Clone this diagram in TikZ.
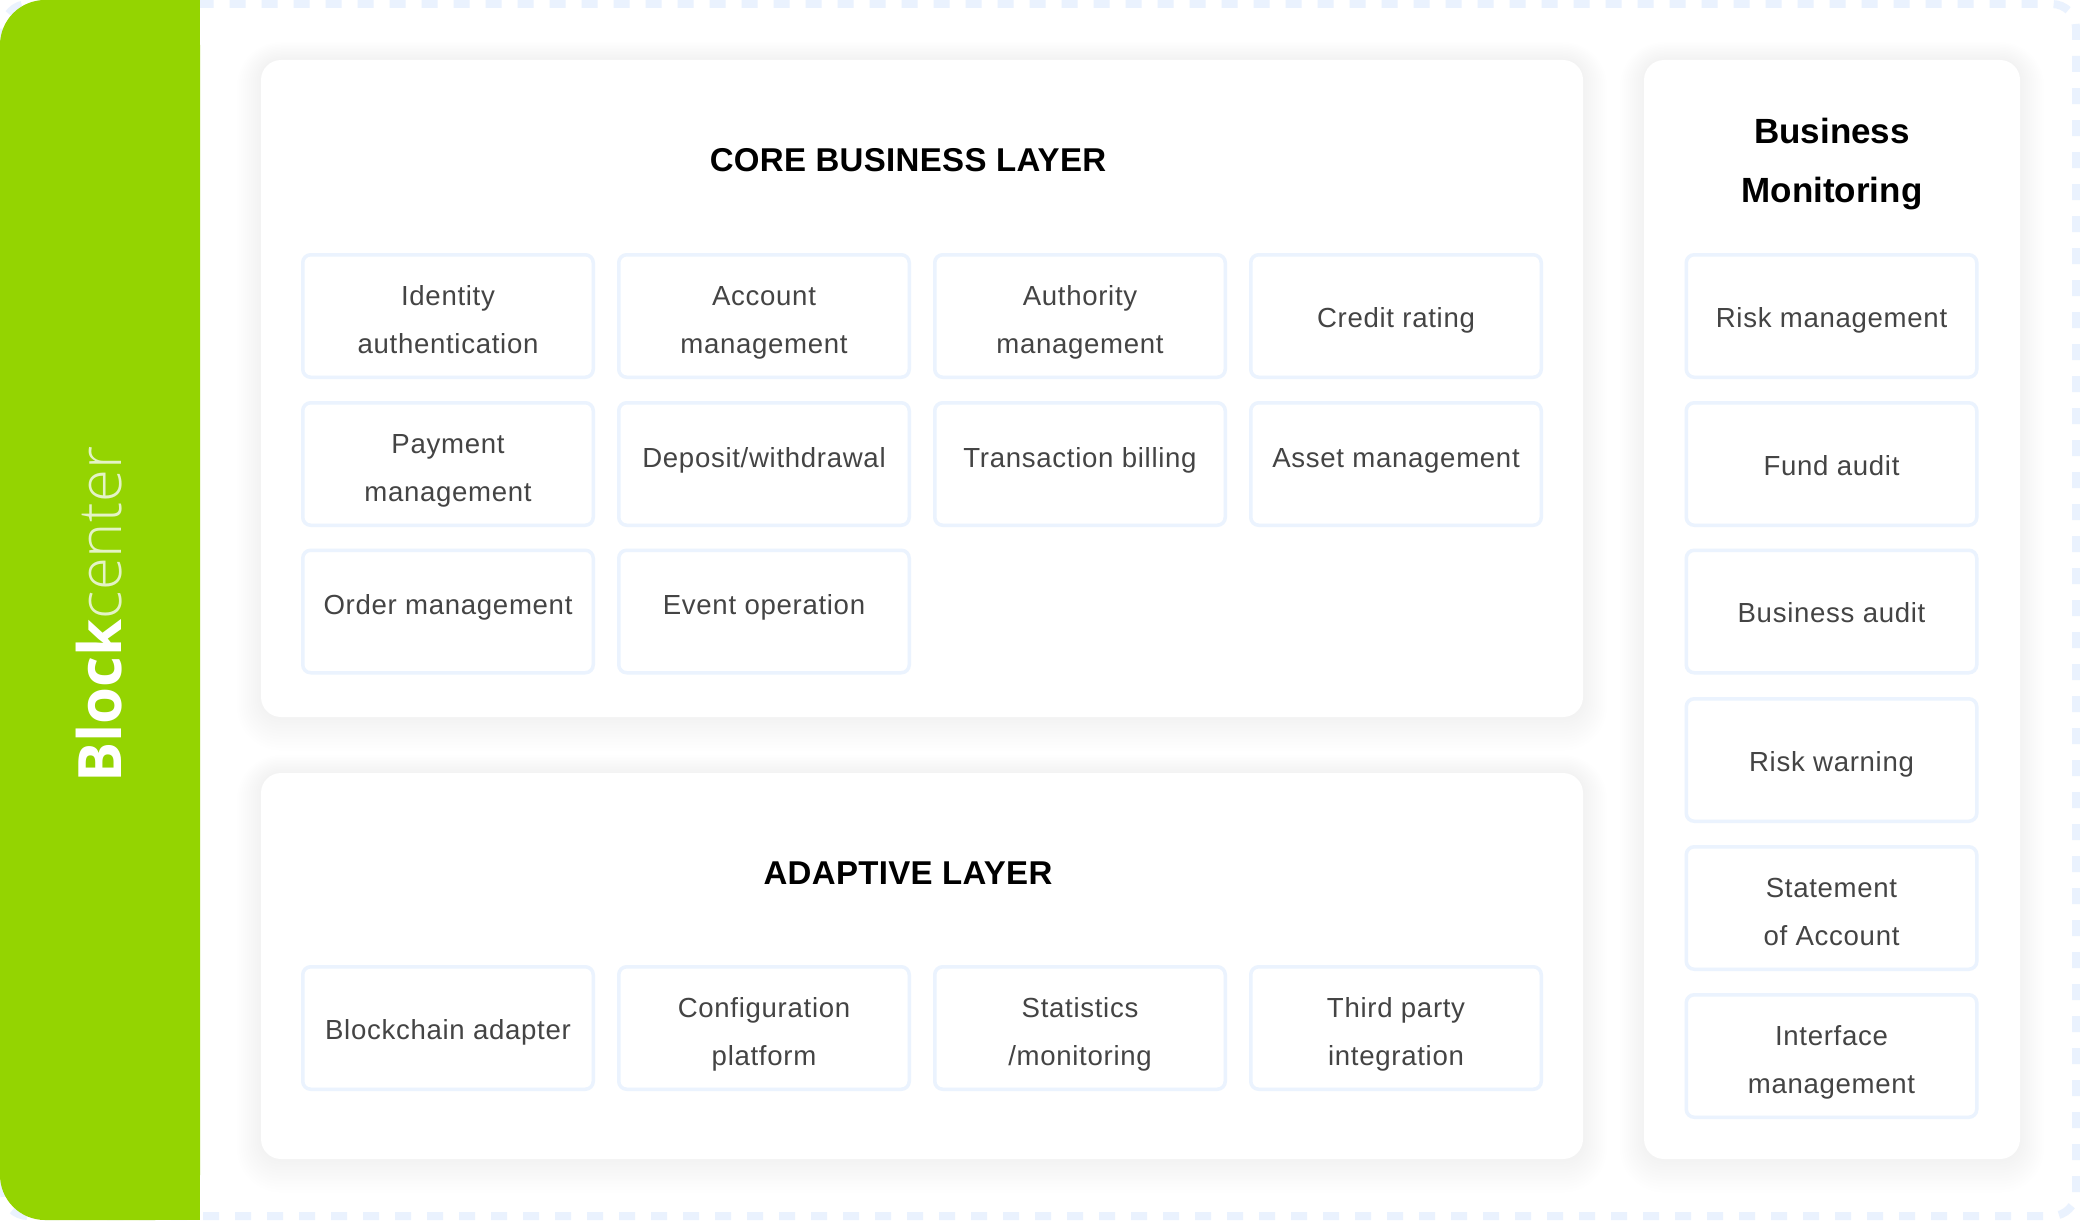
\documentclass[tikz,border=0pt]{standalone}
\usepackage{fontspec}
\setmainfont{Liberation Sans}
\newfontfamily\boxfont{Liberation Sans}[LetterSpace=2.5]
\newfontfamily\headfont{Liberation Sans}[LetterSpace=1]
\newfontfamily\brandbold{Open Sans}
\newfontfamily\brandlight{Open Sans Light}
\definecolor{brandgreen}{HTML}{94D401}
\definecolor{dashblue}{HTML}{EAF2FE}
\definecolor{cellline}{HTML}{EBF3FE}
\definecolor{celltext}{HTML}{444444}
\definecolor{paletext}{HTML}{E4F3C6}
\newcommand{\tallstrut}{\rule{0pt}{16pt}}
\begin{document}
\begin{tikzpicture}[x=0.5pt,y=-0.5pt,
  cell/.style={draw=cellline, line width=1.75pt, rounded corners=4pt, fill=white,
    minimum width=145.25pt, minimum height=61.25pt, inner sep=0pt, align=center,
    text=celltext, font=\boxfont\fontsize{13.8pt}{24pt}\selectfont,
    execute at begin node={\rule{0pt}{14pt}}, execute at end node={\vphantom{g}}},
  raised/.style={execute at end node={\rule[-10.9pt]{0pt}{0pt}}},
  paneltitle/.style={anchor=base, inner sep=0pt, text=black,
    font=\headfont\bfseries\fontsize{16.5pt}{20pt}\selectfont},
  sidetitle/.style={anchor=base, inner sep=0pt, text=black,
    font=\bfseries\fontsize{17.5pt}{20pt}\selectfont},
  panel/.style={fill=white, rounded corners=10pt, inner sep=0pt},
  dashborder/.style={draw=dashblue, line width=4pt, dash pattern=on 8pt off 8pt, rounded corners=12pt}
]
\useasboundingbox (0,0) rectangle (2080,1220);
\fill[white] (0,0) rectangle (2080,1220);
% dashed frame
\draw[dashborder] (2076,1216) rectangle (4,4);
% green band
\fill[brandgreen, rounded corners=22.5pt] (0,0) rectangle (200,1220);
\fill[brandgreen] (100,0) rectangle (200,1220);
\node[rotate=90, anchor=west, inner sep=0pt, text=white, font=\fontsize{29.9pt}{36pt}\selectfont] (brand) at (99,783)
  {{\brandbold\bfseries Block}{\brandlight\color{paletext}center}};
% soft shadows
\foreach \i [evaluate=\i as \rr using 10+\i] in {1,...,12}{
  \fill[black, opacity=0.0027, rounded corners=\rr pt] ({261-2*\i},{60-1.5*\i}) rectangle ({1583+2*\i},{717+2.8*\i});
  \fill[black, opacity=0.0027, rounded corners=\rr pt] ({261-2*\i},{773-1.5*\i}) rectangle ({1583+2*\i},{1159+2.8*\i});
  \fill[black, opacity=0.0027, rounded corners=\rr pt] ({1644-2*\i},{60-1.5*\i}) rectangle ({2020+2*\i},{1159+2.8*\i});
}
% panels
\node[panel, minimum width=661pt, minimum height=328.5pt] (core) at (922,388.5) {};
\node[panel, minimum width=661pt, minimum height=193pt] (adaptive) at (922,966) {};
\node[panel, minimum width=188pt, minimum height=549.5pt] (monitor) at (1832,609.5) {};
% titles
\node[paneltitle] (coretitle) at (908,171) {CORE BUSINESS LAYER};
\node[paneltitle] (adapttitle) at (908,884) {ADAPTIVE LAYER};
\node[sidetitle] (montitleA) at (1832,143) {Business};
\node[sidetitle] (montitleB) at (1832,202) {Monitoring};
% core business cells
\node[cell] (c11) at (448,316) {\tallstrut Identity\\authentication};
\node[cell] (c12) at (764,316) {\tallstrut Account\\management};
\node[cell] (c13) at (1080,316) {\tallstrut Authority\\management};
\node[cell] (c14) at (1396,316) {Credit rating};
\node[cell] (c21) at (448,464) {\tallstrut Payment\\management};
\node[cell, raised] (c22) at (764,464) {Deposit/withdrawal};
\node[cell, raised] (c23) at (1080,464) {Transaction billing};
\node[cell, raised] (c24) at (1396,464) {Asset management};
\node[cell, raised] (c31) at (448,611.5) {Order management};
\node[cell, raised] (c32) at (764,611.5) {Event operation};
% adaptive cells
\node[cell] (a1) at (448,1028) {Blockchain adapter};
\node[cell] (a2) at (764,1028) {\tallstrut Configuration\\platform};
\node[cell] (a3) at (1080,1028) {\tallstrut Statistics\\/monitoring};
\node[cell] (a4) at (1396,1028) {\tallstrut Third party\\integration};
% monitoring cells
\node[cell] (m1) at (1831.5,316) {Risk management};
\node[cell] (m2) at (1831.5,464) {Fund audit};
\node[cell] (m3) at (1831.5,611.5) {Business audit};
\node[cell] (m4) at (1831.5,760) {Risk warning};
\node[cell] (m5) at (1831.5,908) {\tallstrut Statement\\of Account};
\node[cell] (m6) at (1831.5,1056) {\tallstrut Interface\\management};
\end{tikzpicture}
\end{document}
